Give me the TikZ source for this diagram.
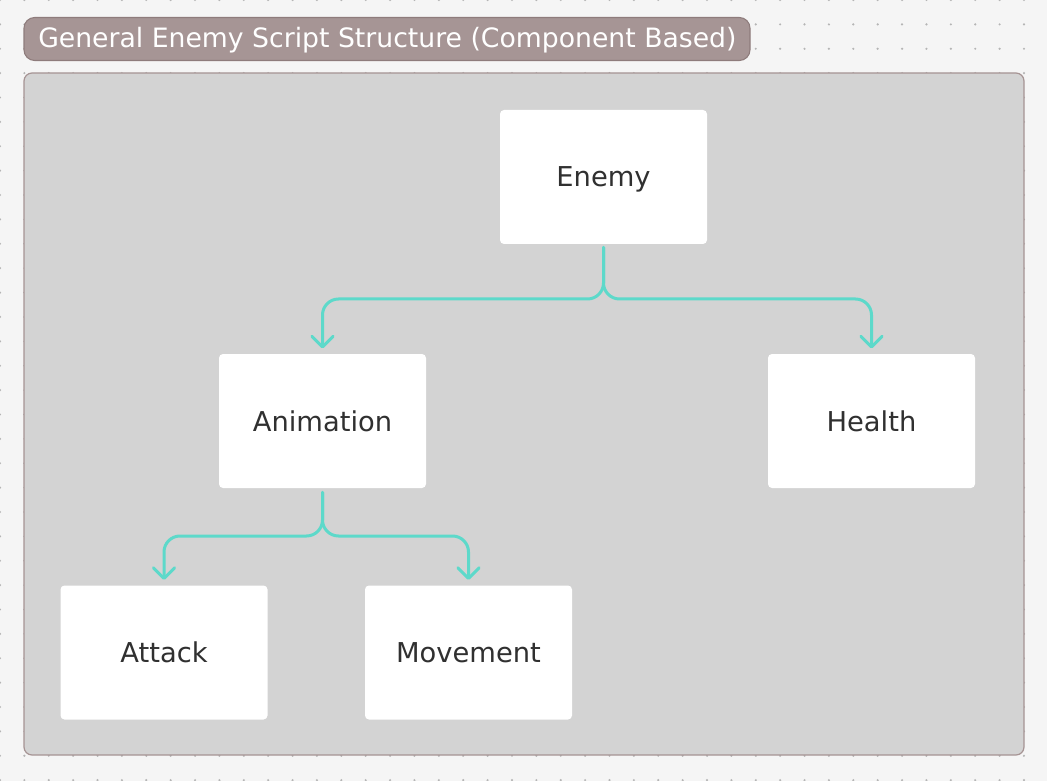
\documentclass[tikz,border=0pt]{standalone}
\usepackage{fontspec}
\setmainfont{DejaVu Sans}
\usetikzlibrary{arrows.meta,calc}
\definecolor{bgc}{HTML}{F5F5F5}
\definecolor{dotc}{HTML}{B5B5B5}
\definecolor{titlefill}{HTML}{A69595}
\definecolor{titledraw}{HTML}{8E7C7C}
\definecolor{contfill}{HTML}{D3D3D3}
\definecolor{contdraw}{HTML}{A69494}
\definecolor{teal}{HTML}{5DD9CA}
\definecolor{txt}{HTML}{303030}
\tikzset{
  compbox/.style={fill=white, draw=none, rounded corners=3pt, minimum width=155.25pt, minimum height=100.5pt, inner sep=0pt, text=txt, font=\fontsize{20.5pt}{24pt}\selectfont, text height=15pt, text depth=0pt},
  conn/.style={draw=teal, line width=2.25pt, rounded corners=12pt, line cap=round, line join=round},
  tipped/.style={conn, -{Straight Barb[length=8pt, width=16pt, line width=2.25pt, round]}, shorten >=4pt},
}
\begin{document}
\begin{tikzpicture}[x=0.75pt, y=-0.75pt]
\useasboundingbox (0,0) rectangle (1047,781);
\fill[bgc] (0,0) rectangle (1047,781);
\foreach \i in {0,...,43}{
  \foreach \j in {0,...,32}{
    \fill[dotc] (24.38*\i, 24.38*\j) circle (0.9pt);
  }
}
% container
\draw[fill=contfill, draw=contdraw, line width=0.9pt, rounded corners=6pt] (24,73) rectangle (1024,755);
% title
\draw[fill=titlefill, draw=titledraw, line width=0.8pt, rounded corners=8pt] (24,17.5) rectangle (750,60.5);
\node[anchor=west, text=white, inner sep=0pt, font=\fontsize{20pt}{24pt}\selectfont, text height=14.6pt, text depth=0pt] (title) at (38,38) {General Enemy Script Structure (Component Based)};
% nodes
\node[compbox] (enemy) at (603.5,177) {Enemy};
\node[compbox] (animation) at (322.5,421) {Animation};
\node[compbox] (health) at (871.5,421) {Health};
\node[compbox] (attack) at (164,652.5) {Attack};
\node[compbox] (movement) at (468.5,652.5) {Movement};
% connectors
\coordinate (e0) at ($(enemy.south)+(0,3)$);
\coordinate (a0) at ($(animation.south)+(0,4)$);
\draw[tipped] (e0) -- (e0 |- 0,299) -- (animation.north |- 0,299) -- (animation.north);
\draw[tipped] (e0) -- (e0 |- 0,299) -- (health.north |- 0,299) -- (health.north);
\draw[tipped] (a0) -- (a0 |- 0,536) -- (attack.north |- 0,536) -- (attack.north);
\draw[tipped] (a0) -- (a0 |- 0,536) -- (movement.north |- 0,536) -- (movement.north);
\end{tikzpicture}
\end{document}
